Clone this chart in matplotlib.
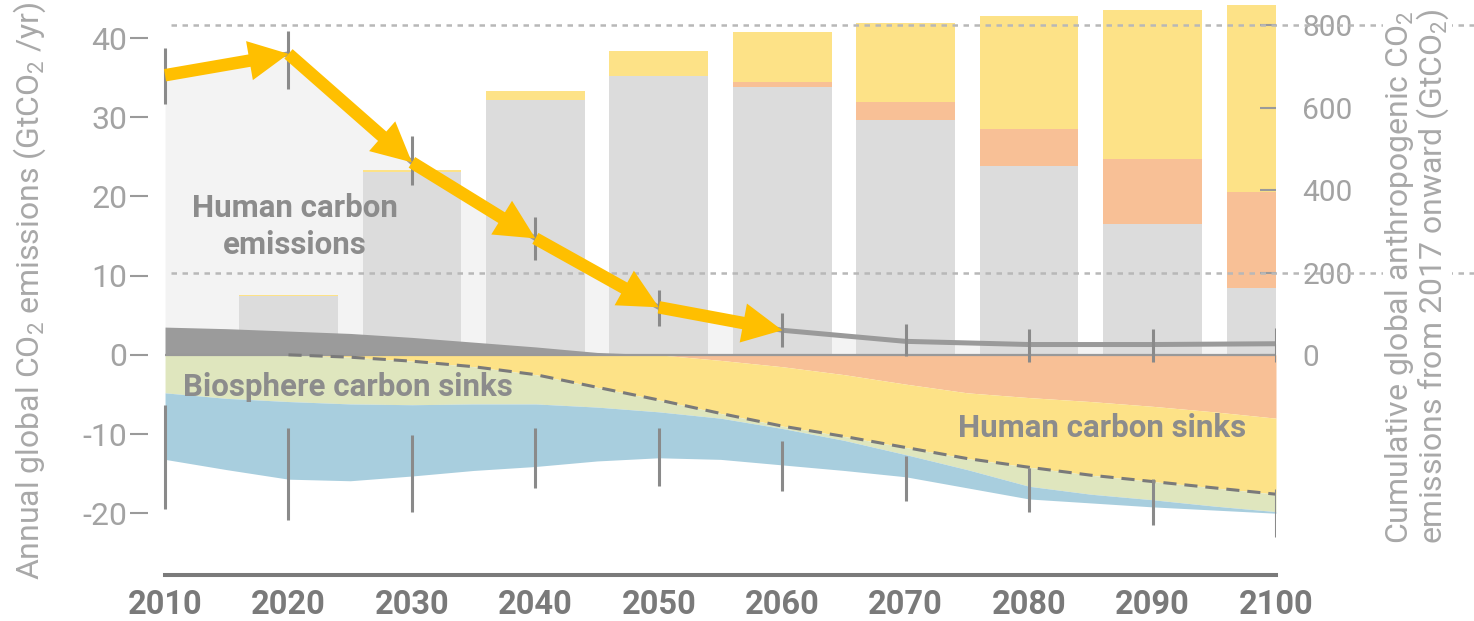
import matplotlib
matplotlib.use("Agg")
import matplotlib.pyplot as plt
from matplotlib.patches import FancyArrowPatch

plt.rcParams["font.family"] = ["Roboto", "DejaVu Sans"]
plt.rcParams["axes.unicode_minus"] = False
plt.rcParams["mathtext.default"] = "regular"

# decadal values (GtCO2/yr)
years = [2010, 2020, 2030, 2040, 2050, 2060, 2070, 2080, 2090, 2100]
net_emissions = [35.3, 38.0, 24.3, 14.7, 6.0, 3.1, 1.7, 1.3, 1.3, 1.4]
emis_low = [31.7, 33.6, 21.4, 12.0, 3.6, 1.0, -0.2, -0.9, -0.9, -0.9]
emis_high = [38.8, 40.9, 27.6, 17.4, 8.2, 5.3, 3.9, 3.3, 3.3, 3.4]
sink_low = [-19.5, -20.8, -19.8, -16.8, -16.6, -17.2, -18.5, -19.9, -21.5, -23.0]
sink_high = [-6.3, -9.2, -10.1, -9.3, -9.3, -10.9, -12.8, -14.3, -15.7, -17.0]

# five-yearly layer edges (GtCO2/yr)
years5 = list(range(2010, 2101, 5))
land_use = [3.5, 3.3, 3.0, 2.7, 2.2, 1.6, 1.0, 0.3, 0, 0, 0, 0, 0, 0, 0, 0, 0, 0, 0]
beccs_edge = [0, 0, 0, 0, 0, 0, 0, 0, 0, -0.7, -1.5, -2.5, -3.7, -4.8, -5.4, -5.9, -6.5, -7.2, -8.0]
human_sinks = [0, 0, 0, -0.3, -0.8, -1.5, -2.5, -4.1, -5.7, -7.4, -9.0, -10.3, -11.7, -13.1,
               -14.2, -15.2, -16.0, -16.8, -17.6]
land_sink_edge = [-4.8, -5.5, -5.9, -6.2, -6.3, -6.2, -6.2, -6.6, -7.2, -8.0, -9.3, -10.8,
                  -12.6, -14.5, -16.6, -17.6, -18.3, -19.1, -19.8]
ocean_edge = [-13.2, -14.5, -15.7, -15.9, -15.3, -14.6, -14.1, -13.4, -13.0, -13.2, -13.9,
              -14.6, -15.4, -16.8, -18.2, -18.7, -19.2, -19.6, -20.0]

# cumulative emissions from 2017 (GtCO2)
bar_years = [2020, 2030, 2040, 2050, 2060, 2070, 2080, 2090, 2100]
cum_fossil = [142, 443, 618, 676, 649, 570, 457, 318, 162]
cum_beccs = [0, 0, 0, 0, 14, 44, 91, 156, 232]
cum_other = [3, 5, 22, 62, 119, 192, 275, 362, 455]

W, H = 1474, 621
fig = plt.figure(figsize=(W / 100, H / 100), dpi=100)
rect = [148 / W, 46 / H, 1128 / W, 575 / H]

ax = fig.add_axes(rect, zorder=2)
ax_back = fig.add_axes(rect, zorder=0, sharex=ax, sharey=ax)
ax_bars = fig.add_axes(rect, zorder=1, sharex=ax)
for a in (ax, ax_bars):
    a.patch.set_visible(False)

# light area under the annual emissions
ax_back.fill_between(years, 0, net_emissions, color="#f3f3f3", lw=0)
ax_back.axis("off")

# stacked cumulative bars on the right scale
ax_bars.bar(bar_years, cum_fossil, width=8, color="#dcdcdc", lw=0)
ax_bars.bar(bar_years, cum_beccs, width=8, bottom=cum_fossil, color="#f8c096", lw=0)
tops = [f + b for f, b in zip(cum_fossil, cum_beccs)]
ax_bars.bar(bar_years, cum_other, width=8, bottom=tops, color="#fde287", lw=0)
for level in (800, 200):
    ax_bars.axhline(level, xmin=0.02, xmax=1.18, clip_on=False, color="#b8b8b8",
                    lw=1.8, ls=(0, (2.2, 2.2)), zorder=2)
ax_bars.set_ylim(-533.3, 860.6)
ax_bars.set_yticks([0, 200, 400, 600, 800])
ax_bars.yaxis.tick_right()
ax_bars.tick_params(axis="y", direction="in", length=11.5, width=1.5, color="#9a9a9a",
                    pad=19, labelsize=21.5, labelcolor="#a3a3a3")
ax_bars.tick_params(axis="x", bottom=False, labelbottom=False)
for lbl in ax_bars.get_yticklabels():
    lbl.set_bbox(dict(fc="white", ec="none", pad=1))
for s in ax_bars.spines.values():
    s.set_visible(False)

# sources and sinks
ax.fill_between(years5, 0, land_use, color="#9b9b9b", lw=0, zorder=1)
ax.fill_between(years5, 0, beccs_edge, color="#f8c096", lw=0, zorder=1)
ax.fill_between(years5, beccs_edge, human_sinks, color="#fde287", lw=0, zorder=1)
ax.fill_between(years5, human_sinks, land_sink_edge, color="#dfe6be", lw=0, zorder=1)
ax.fill_between(years5, land_sink_edge, ocean_edge, color="#a8cede", lw=0, zorder=1)
ax.hlines(0, years[0], years[-1], color="#999999", lw=1.6, zorder=2)
ax.plot(years5[2:], human_sinks[2:], color="#7a7a7a", lw=2.2, ls=(0, (4.3, 2.6)), zorder=3)

ax.plot(years, net_emissions, color="#9a9a9a", lw=3.6, zorder=3, solid_capstyle="butt")
ax.vlines(years, emis_low, emis_high, color="#8a8a8a", lw=2.2, zorder=4)
ax.vlines(years, sink_low, sink_high, color="#8a8a8a", lw=2.2, zorder=4)

for i in range(5):
    arrow = FancyArrowPatch((years[i], net_emissions[i]), (years[i + 1], net_emissions[i + 1]),
                            arrowstyle="simple,head_length=0.95,head_width=0.95,tail_width=0.3",
                            mutation_scale=30, color="#ffbf00", lw=0,
                            shrinkA=0, shrinkB=0, zorder=5)
    ax.add_patch(arrow)

label_kw = dict(fontsize=22.5, fontweight="bold", color="#8c8c8c", zorder=6)
ax.text(2020.5, 16.2, "Human carbon\nemissions", ha="center", va="center",
        linespacing=1.3, **label_kw)
ax.text(2024.8, -4.1, "Biosphere carbon sinks", ha="center", va="center", **label_kw)
ax.text(2085.9, -9.3, "Human carbon sinks", ha="center", va="center", **label_kw)

ax.set_xlim(2008.62, 2100)
ax.set_ylim(-27.8, 44.8)
ax.set_yticks([-20, -10, 0, 10, 20, 30, 40])
ax.tick_params(axis="y", direction="out", length=13, width=1.5, color="#9a9a9a", pad=2,
               labelsize=23, labelcolor="#a3a3a3")
ax.set_xticks(years)
ax.set_xticklabels([str(y) for y in years])
ax.tick_params(axis="x", length=0, pad=10, labelsize=23.5, labelcolor="#7a7a7a")
for lbl in ax.get_xticklabels():
    lbl.set_fontweight("bold")
for side in ("left", "right", "top"):
    ax.spines[side].set_visible(False)
ax.spines["bottom"].set_bounds(2010, 2100)
ax.spines["bottom"].set_color("#7a7a7a")
ax.spines["bottom"].set_linewidth(2.9)

fig.text(30 / W, 1 - 291 / H, "Annual global CO$_2$ emissions (GtCO$_2$ /yr)", rotation=90,
         ha="center", va="center", fontsize=23, color="#a8a8a8")
fig.text(1417 / W, 1 - 277 / H,
         "Cumulative global anthropogenic CO$_2$\nemissions from 2017 onward (GtCO$_2$)",
         rotation=90, ha="center", va="center", fontsize=23, color="#a8a8a8",
         linespacing=0.95, bbox=dict(fc="white", ec="none", pad=1))

fig.savefig("out.png", dpi=100)
